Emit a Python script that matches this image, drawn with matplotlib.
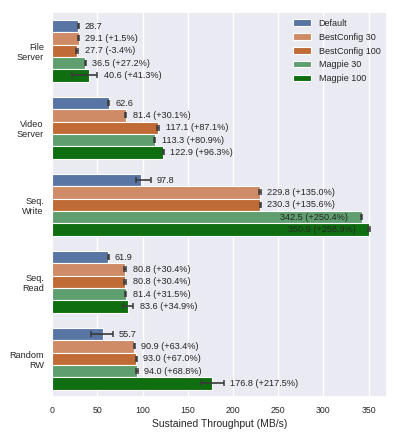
import numpy as np
import matplotlib
matplotlib.use('Agg')
import matplotlib.pyplot as plt
import seaborn as sns

# workloads (top to bottom) and configurations
workloads = ['File\nServer', 'Video\nServer', 'Seq.\nWrite', 'Seq.\nRead', 'Random\nRW']
configs = ['Default', 'BestConfig 30', 'BestConfig 100', 'Magpie 30', 'Magpie 100']
colors = ['#5875a4', '#cf8a66', '#c06b36', '#5f9e6e', '#0f6e0f']

# mean throughput (MB/s), one list per config
default = [28.7, 62.6, 97.8, 61.9, 55.7]
best30 = [29.1, 81.4, 229.8, 80.8, 90.9]
best100 = [27.7, 117.1, 230.3, 80.8, 93.0]
magpie30 = [36.5, 113.3, 342.5, 81.4, 94.0]
magpie100 = [40.6, 122.9, 350.9, 83.6, 176.8]

# improvement over default (%)
pct_best30 = [1.5, 30.1, 135.0, 30.4, 63.4]
pct_best100 = [-3.4, 87.1, 135.6, 30.4, 67.0]
pct_magpie30 = [27.2, 80.9, 250.4, 31.5, 68.8]
pct_magpie100 = [41.3, 96.3, 258.9, 34.9, 217.5]

# error bars (lower, upper)
err_lo_default = [0.5, 0.6, 5.0, 0.5, 13.0]
err_hi_default = [0.5, 0.6, 11.0, 0.5, 11.0]
err_lo_best30 = [0.5, 0.5, 1.0, 1.0, 0.8]
err_hi_best30 = [0.5, 0.5, 1.0, 1.0, 0.8]
err_lo_best100 = [1.0, 1.5, 0.6, 1.2, 0.8]
err_hi_best100 = [1.0, 1.5, 0.6, 1.2, 0.8]
err_lo_magpie30 = [0.6, 0.6, 0.6, 0.6, 0.8]
err_hi_magpie30 = [0.6, 0.6, 0.6, 0.6, 0.8]
err_lo_magpie100 = [19.0, 0.6, 1.2, 5.0, 12.0]
err_hi_magpie100 = [9.4, 0.6, 1.2, 6.0, 13.0]

values = [default, best30, best100, magpie30, magpie100]
pcts = [None, pct_best30, pct_best100, pct_magpie30, pct_magpie100]
err_lo = [err_lo_default, err_lo_best30, err_lo_best100, err_lo_magpie30, err_lo_magpie100]
err_hi = [err_hi_default, err_hi_best30, err_hi_best100, err_hi_magpie30, err_hi_magpie100]

sns.set_theme(style='darkgrid')
plt.rcParams['font.family'] = ['Liberation Sans', 'DejaVu Sans']

fig = plt.figure(figsize=(3.99, 4.38), dpi=100)
ax = fig.add_axes([0.131, 0.093, 0.838, 0.879])

n = len(configs)
h = 0.8 / n
y = np.arange(len(workloads))
xmax = 370

for i in range(n):
    pos = y - 0.4 + h * (i + 0.5)
    ax.barh(pos, values[i], height=h, color=colors[i], edgecolor='white',
            linewidth=0.8, label=configs[i], zorder=2)
    ax.errorbar(values[i], pos, xerr=[err_lo[i], err_hi[i]], fmt='none',
                ecolor='#3a3a3a', elinewidth=1.2, capsize=2, capthick=1.1, zorder=3)
    for j, v in enumerate(values[i]):
        if pcts[i] is None:
            label = f'{v:.1f}'
        else:
            label = f'{v:.1f} ({pcts[i][j]:+.1f}%)'
        if v > 300:
            ax.text(v - 15, pos[j], label, ha='right', va='center',
                    fontsize=6.6, color='#262626', zorder=4)
        else:
            ax.text(v + err_hi[i][j] + 7, pos[j], label, ha='left', va='center',
                    fontsize=6.6, color='#262626', zorder=4)

ax.set_yticks(y)
ax.set_yticklabels(workloads, fontsize=6.6)
ax.set_ylim(len(workloads) - 0.5, -0.5)
ax.set_xlim(0, xmax)
ax.set_xticks([0, 50, 100, 150, 200, 250, 300, 350])
ax.tick_params(axis='x', labelsize=6.3, length=0, pad=6.5)
ax.tick_params(axis='y', length=0, pad=6)
ax.set_xlabel('Sustained Throughput (MB/s)', fontsize=7.5, labelpad=3)
ax.grid(axis='y', visible=False)
ax.legend(loc='upper right', frameon=False, fontsize=6.5, handlelength=2.0,
          labelspacing=0.55, borderaxespad=0.3)

fig.savefig('out.png', dpi=100)
